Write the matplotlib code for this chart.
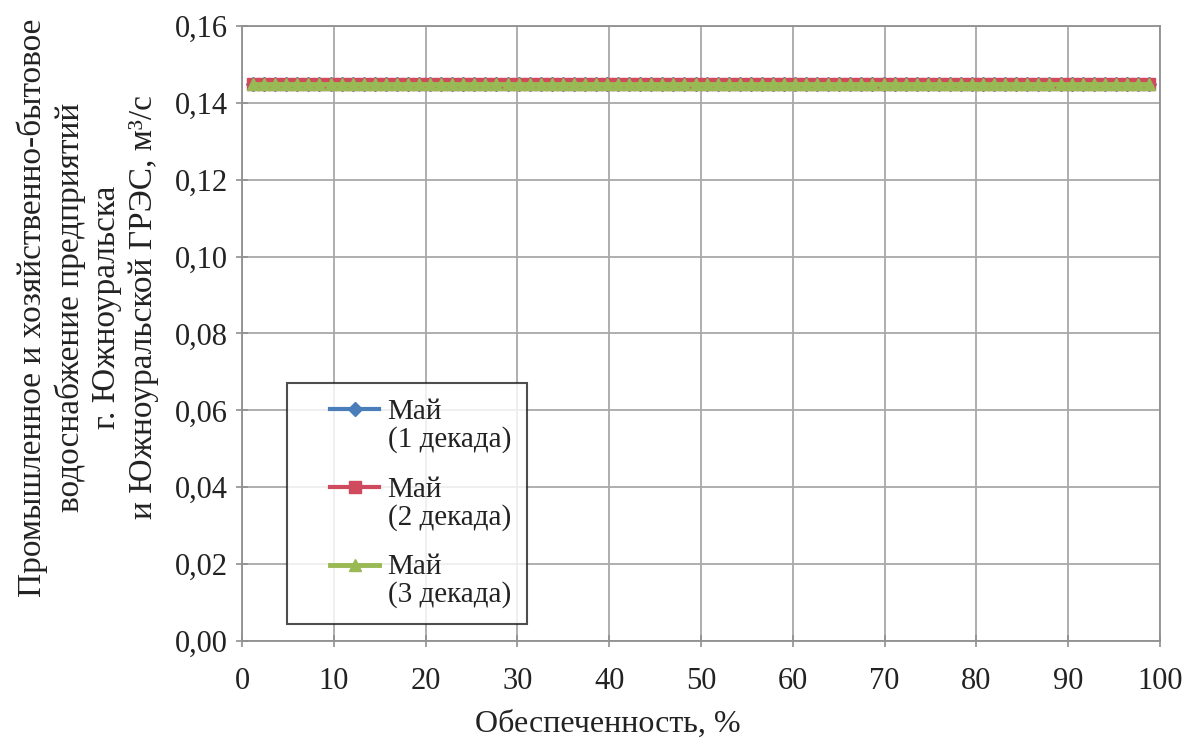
import matplotlib
matplotlib.use("Agg")
import matplotlib.pyplot as plt
from matplotlib.legend_handler import HandlerBase
from matplotlib.lines import Line2D

plt.rcParams['font.family'] = ['Liberation Serif', 'DejaVu Serif']

# Обеспеченность, % (точки ряда)
p = [1.20, 2.41, 3.61, 4.82, 6.02, 7.23, 8.43, 9.64, 10.84, 12.05,
     13.25, 14.46, 15.66, 16.87, 18.07, 19.28, 20.48, 21.69, 22.89, 24.10,
     25.30, 26.51, 27.71, 28.92, 30.12, 31.33, 32.53, 33.73, 34.94, 36.14,
     37.35, 38.55, 39.76, 40.96, 42.17, 43.37, 44.58, 45.78, 46.99, 48.19,
     49.40, 50.60, 51.81, 53.01, 54.22, 55.42, 56.63, 57.83, 59.04, 60.24,
     61.45, 62.65, 63.86, 65.06, 66.27, 67.47, 68.67, 69.88, 71.08, 72.29,
     73.49, 74.70, 75.90, 77.11, 78.31, 79.52, 80.72, 81.93, 83.13, 84.34,
     85.54, 86.75, 87.95, 89.16, 90.36, 91.57, 92.77, 93.98, 95.18, 96.39,
     97.59, 98.80]

# расход, м3/с (постоянный по всей кривой)
may_1 = [0.145] * len(p)
may_2 = [0.145] * len(p)
may_3 = [0.145] * len(p)

labels = ['Май\n(1 декада)', 'Май\n(2 декада)', 'Май\n(3 декада)']
colors = ['#4A7EBB', '#D04A5E', '#98B954']

yticks = [0.00, 0.02, 0.04, 0.06, 0.08, 0.10, 0.12, 0.14, 0.16]
ytick_labels = ['0,00', '0,02', '0,04', '0,06', '0,08', '0,10', '0,12', '0,14', '0,16']
xticks = [0, 10, 20, 30, 40, 50, 60, 70, 80, 90, 100]


# маркер легенды напротив первой строки подписи, с отступом слева
class TopHandler(HandlerBase):
    def __init__(self, lead=0.36, dy=11.5):
        super().__init__()
        self.lead = lead
        self.dy = dy

    def create_artists(self, legend, orig, xdescent, ydescent, width, height,
                       fontsize, trans):
        x0 = -xdescent + self.lead * width
        x1 = -xdescent + width
        y = -ydescent + height / 2 + self.dy
        ln = Line2D([x0, x1], [y, y], color=orig.get_color(), lw=orig.get_linewidth())
        mk = Line2D([(x0 + x1) / 2], [y], color=orig.get_color(), ls='none',
                    marker=orig.get_marker(), ms=orig.get_markersize())
        ln.set_transform(trans)
        mk.set_transform(trans)
        return [ln, mk]


fig = plt.figure(figsize=(11.87, 7.41), dpi=100)
ax = fig.add_axes([0.2039, 0.135, 0.7734, 0.830])

l1, = ax.plot(p, may_1, color=colors[0], lw=3, marker='D', ms=7, label=labels[0])
l2, = ax.plot(p, may_2, color=colors[1], lw=3, marker='s', ms=8, label=labels[1])
l3, = ax.plot(p, may_3, color=colors[2], lw=3.5, marker='^', ms=9, label=labels[2])

ax.set_xlim(0, 100)
ax.set_ylim(0, 0.16)
ax.set_xticks(xticks)
ax.set_yticks(yticks)
ax.set_yticklabels(ytick_labels)
ax.tick_params(labelsize=22, direction='inout', length=8, color='#909090', width=1.2,
               labelcolor='#222222')
ax.tick_params(axis='x', pad=15)
ax.tick_params(axis='y', pad=6)
ax.grid(True, color='#A8A8A8', lw=1.3)
ax.set_axisbelow(True)
for s in ax.spines.values():
    s.set_color('#909090')
    s.set_linewidth(1.3)

h = TopHandler()
leg = ax.legend(loc='upper left', bbox_to_anchor=(0.049, 0.42),
                fontsize=21, frameon=True, fancybox=False,
                handlelength=2.6, handletextpad=0.3, labelspacing=0.82,
                borderaxespad=0, borderpad=0.55,
                handler_map={l1: h, l2: h, l3: h})
leg.get_frame().set_edgecolor('#222222')
leg.get_frame().set_linewidth(1.5)
for t in leg.get_texts():
    t.set_color('#222222')
    t.set_linespacing(1.05)

fig.text(0.512, 0.022, 'Обеспеченность, %', fontsize=23, ha='center', va='center',
         color='#222222')
fig.text(0.074, 0.585,
         'Промышленное и хозяйственно-бытовое\nводоснабжение предприятий\n'
         'г. Южноуральска\nи Южноуральской ГРЭС, м³/с',
         rotation=90, fontsize=24, ha='center', va='center', linespacing=1.25,
         color='#222222', multialignment='center')

fig.savefig('out.png', dpi=100)
